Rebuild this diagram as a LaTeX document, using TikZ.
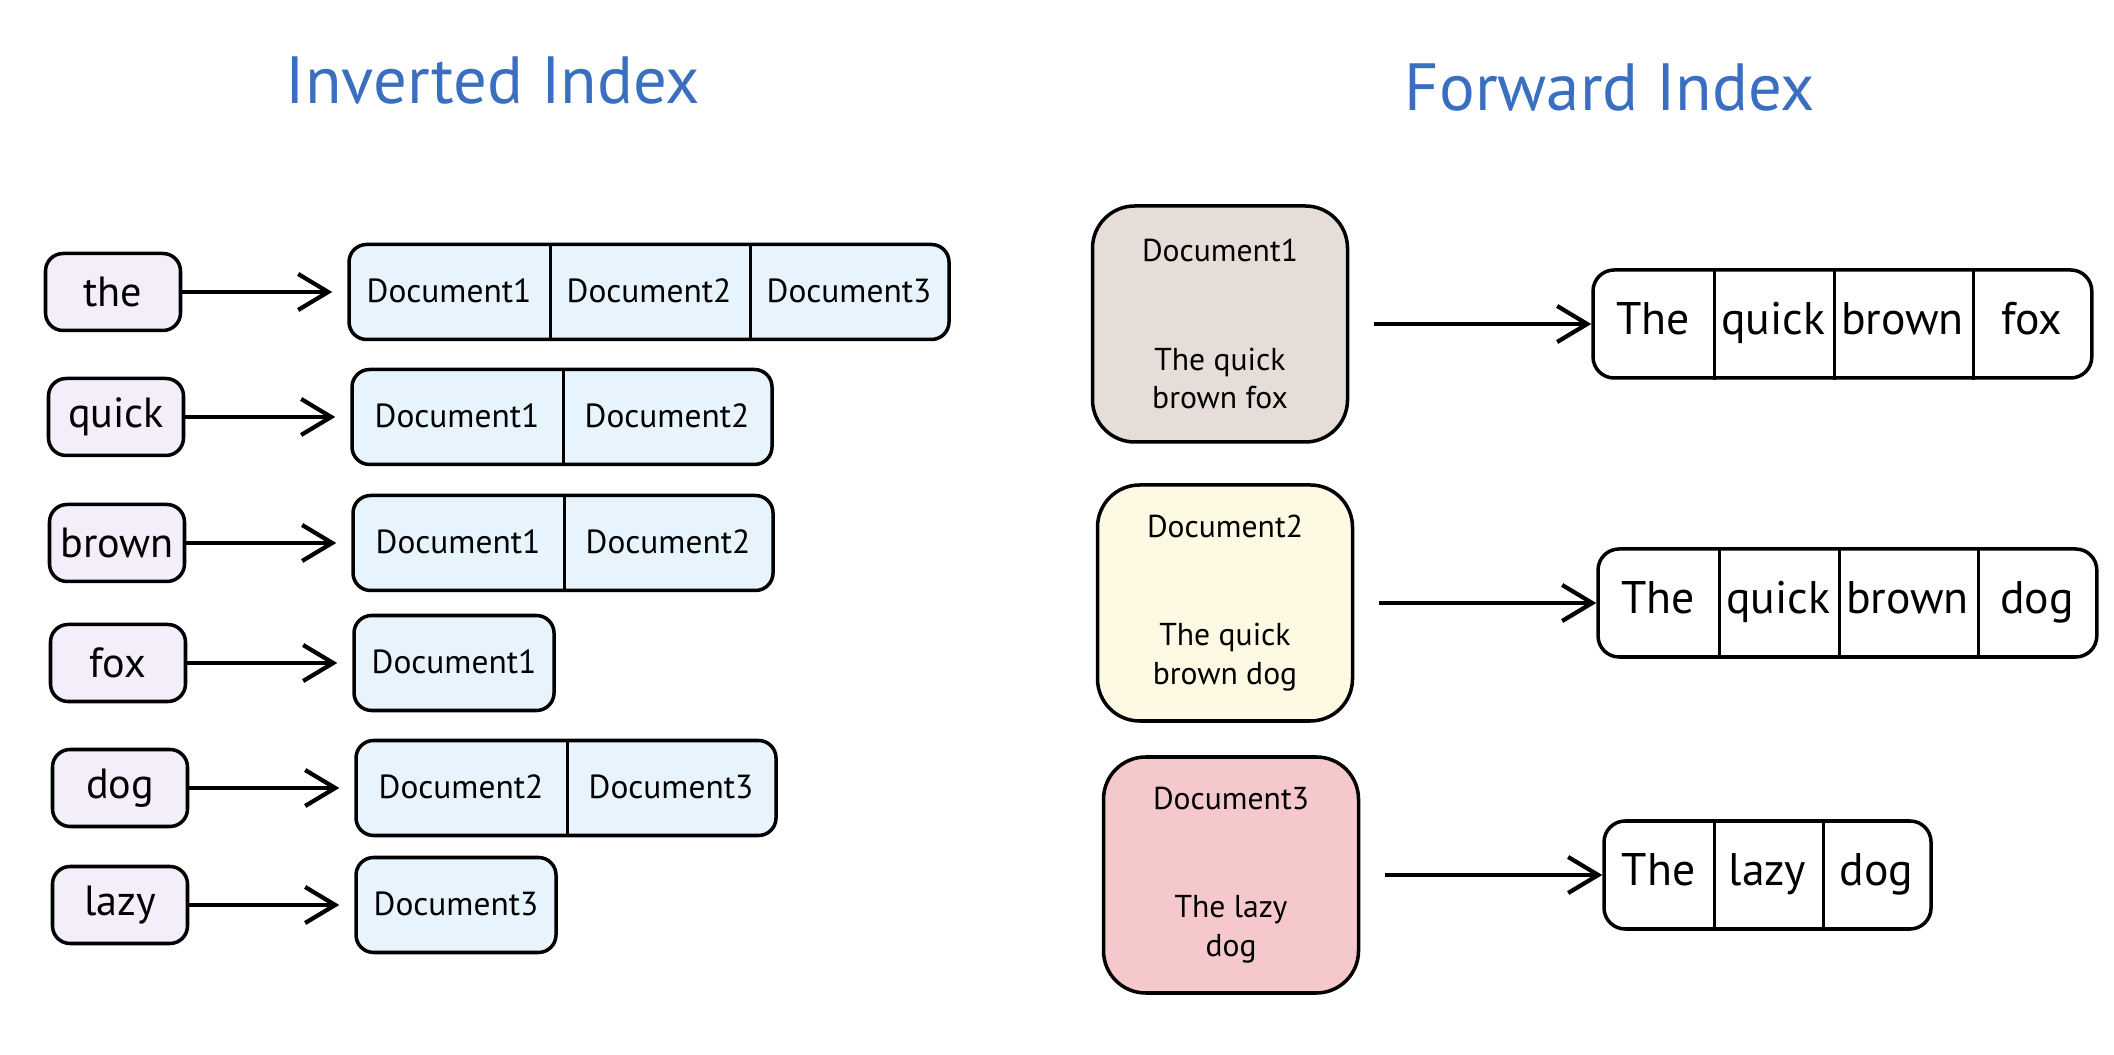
\documentclass[tikz,border=0pt]{standalone}
\usepackage{fontspec}
\setmainfont{PT Sans}
\usepackage{tikz}
\usetikzlibrary{positioning, arrows.meta, matrix}
\definecolor{titleBlue}{HTML}{3A6FBF}
\definecolor{wordFill}{HTML}{F3EEF9}
\definecolor{postFill}{HTML}{E7F3FD}
\definecolor{docOne}{HTML}{E6DDD8}
\definecolor{docTwo}{HTML}{FEF9E2}
\definecolor{docThree}{HTML}{F5C9CB}
\tikzset{
    heading/.style={font=\fontsize{19}{22}\selectfont, text=titleBlue},
    word/.style={rectangle, draw=black, line width=1pt, fill=wordFill, rounded corners=5pt, minimum width=1.35cm, minimum height=0.77cm, inner sep=2pt, font=\fontsize{12}{14}\selectfont},
    postings/.style={
        matrix of nodes,
        nodes={minimum width=2.0cm, minimum height=0.95cm, inner sep=0pt, anchor=center, text height=1.6ex, text depth=0.4ex, font=\fontsize{9.5}{11}\selectfont},
        column sep=0pt,
        draw=black, line width=1pt, fill=postFill, rounded corners=5pt, inner sep=0pt
    },
    tokens/.style={
        matrix of nodes,
        nodes={minimum width=1.2cm, minimum height=1.08cm, inner xsep=0.08cm, inner ysep=0pt, anchor=center, text height=1.6ex, text depth=0.4ex, font=\fontsize{13}{15}\selectfont},
        column sep=0pt,
        draw=black, line width=1pt, fill=white, rounded corners=6pt, inner sep=0pt
    },
    doc/.style={rectangle, draw=black, line width=1pt, rounded corners=12pt, minimum width=2.55cm, minimum height=2.36cm, align=center, font=\fontsize{9}{11}\selectfont},
    divider/.style={line width=0.9pt},
    arrow/.style={-{Straight Barb[length=3mm, width=3.6mm]}, line width=1.2pt}
}

\begin{document}
\begin{tikzpicture}
    \useasboundingbox (0,0) rectangle (21.14,10.54);

    % Headings
    \node[heading] (hInv) at (4.93,9.73) {Inverted Index};
    \node[heading] (hFwd) at (16.10,9.66) {Forward Index};

    % Inverted index: terms
    \node[word] (wThe) at (1.13,7.62) {the};
    \node[word] (wQuick) at (1.16,6.37) {quick};
    \node[word] (wBrown) at (1.17,5.11) {brown};
    \node[word] (wFox) at (1.18,3.91) {fox};
    \node[word] (wDog) at (1.20,2.66) {dog};
    \node[word] (wLazy) at (1.20,1.49) {lazy};

    % Posting lists
    \matrix (pThe) [postings, right=1.65cm of wThe] {Document1 & Document2 & Document3 \\};
    \matrix (pQuick) [postings, nodes={minimum width=2.1cm}, right=1.65cm of wQuick] {Document1 & Document2 \\};
    \matrix (pBrown) [postings, nodes={minimum width=2.1cm}, right=1.65cm of wBrown] {Document1 & Document2 \\};
    \matrix (pFox) [postings, right=1.65cm of wFox] {Document1 \\};
    \matrix (pDog) [postings, nodes={minimum width=2.1cm}, right=1.65cm of wDog] {Document2 & Document3 \\};
    \matrix (pLazy) [postings, right=1.65cm of wLazy] {Document3 \\};

    \draw[arrow, shorten >=1.5mm] (wThe) -- (pThe);
    \draw[arrow, shorten >=1.5mm] (wQuick) -- (pQuick);
    \draw[arrow, shorten >=1.5mm] (wBrown) -- (pBrown);
    \draw[arrow, shorten >=1.5mm] (wFox) -- (pFox);
    \draw[arrow, shorten >=1.5mm] (wDog) -- (pDog);
    \draw[arrow, shorten >=1.5mm] (wLazy) -- (pLazy);

    % Forward index: documents
    \node[doc, fill=docOne] (dOne) at (12.20,7.30) {Document1\\[0.7cm]The quick\\brown fox};
    \node[doc, fill=docTwo] (dTwo) at (12.25,4.51) {Document2\\[0.7cm]The quick\\brown dog};
    \node[doc, fill=docThree] (dThree) at (12.31,1.79) {Document3\\[0.7cm]The lazy\\dog};

    % Token lists
    \matrix (tOne) [tokens, right=2.42cm of dOne] {The & quick & brown & fox \\};
    \matrix (tTwo) [tokens, right=2.42cm of dTwo] {The & quick & brown & dog \\};
    \matrix (tThree) [tokens, nodes={minimum width=1.09cm}, right=2.42cm of dThree] {The & lazy & dog \\};

    \draw[arrow, shorten <=2.5mm] (dOne) -- (tOne);
    \draw[arrow, shorten <=2.5mm] (dTwo) -- (tTwo);
    \draw[arrow, shorten <=2.5mm] (dThree) -- (tThree);

    % Cell dividers
    \foreach \m/\c in {pThe/1, pThe/2, pQuick/1, pBrown/1, pDog/1, tOne/1, tOne/2, tOne/3, tTwo/1, tTwo/2, tTwo/3, tThree/1, tThree/2}
        \draw[divider] (\m-1-\c.north east) -- (\m-1-\c.south east);
\end{tikzpicture}
\end{document}
